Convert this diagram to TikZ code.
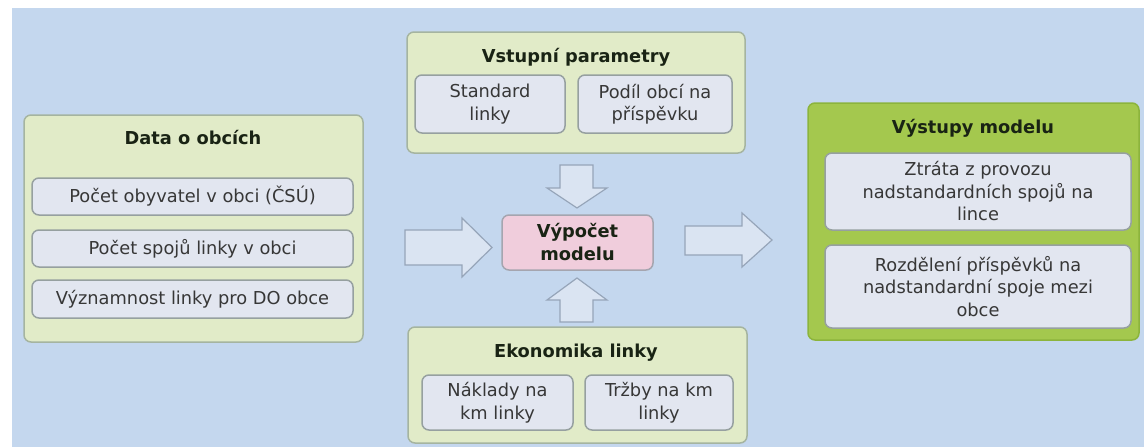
\documentclass[tikz,border=0pt]{standalone}
\usepackage{fontspec}
\setmainfont{DejaVu Sans}
\usetikzlibrary{calc}
\definecolor{bg}{RGB}{196,215,238}
\definecolor{palegreen}{RGB}{225,235,200}
\definecolor{outerborder}{RGB}{165,180,160}
\definecolor{stronggreen}{RGB}{164,200,78}
\definecolor{strongborder}{RGB}{140,180,60}
\definecolor{innerfill}{RGB}{226,230,240}
\definecolor{innerborder}{RGB}{150,160,160}
\definecolor{pinkfill}{RGB}{240,205,220}
\definecolor{pinkborder}{RGB}{165,165,175}
\definecolor{arrowfill}{RGB}{218,228,242}
\definecolor{arrowborder}{RGB}{150,165,185}
\definecolor{txt}{RGB}{55,55,55}
\definecolor{titletxt}{RGB}{25,35,20}
\begin{document}
\begin{tikzpicture}[x=1pt,y=-1pt,
  outerbox/.style={draw=outerborder, fill=palegreen, line width=1.5pt, rounded corners=7pt, inner sep=0pt},
  innerbox/.style={draw=innerborder, fill=innerfill, line width=1.5pt, rounded corners=7pt, align=center, inner sep=0pt, font=\fontsize{17.8}{22.5}\selectfont, text=txt},
  titletext/.style={font=\fontsize{17.8}{22}\selectfont\bfseries, text=titletxt, inner sep=0pt},
  barrow/.style={draw=arrowborder, fill=arrowfill, line width=1.2pt, line join=miter}]
\useasboundingbox (0,0) rectangle (1144,447);
\fill[white] (0,0) rectangle (1144,447);
\fill[bg] (12,8) rectangle (1144,447);

% Data o obcich
\node[outerbox, minimum width=339pt, minimum height=227pt] (data) at (193.5,228.5) {};
\node[titletext] (dataT) at (193,138) {Data o obcích};
\node[innerbox, minimum width=321pt, minimum height=37pt] (d1) at (192.5,196.5) {Počet obyvatel v obci (ČSÚ)};
\node[innerbox, minimum width=321pt, minimum height=37pt] (d2) at (192.5,248.5) {Počet spojů linky v obci};
\node[innerbox, minimum width=321pt, minimum height=38pt] (d3) at (192.5,299) {Významnost linky pro DO obce};

% Vstupni parametry
\node[outerbox, minimum width=338pt, minimum height=121pt] (vstup) at (576,92.5) {};
\node[titletext] (vstupT) at (576,57) {Vstupní parametry};
\node[innerbox, minimum width=150pt, minimum height=58pt] (v1) at (490,104) {Standard\\linky};
\node[innerbox, minimum width=154pt, minimum height=58pt] (v2) at (655,104) {Podíl obcí na\\příspěvku};

% Vypocet modelu
\node[draw=pinkborder, fill=pinkfill, line width=1.5pt, rounded corners=7pt, minimum width=151pt, minimum height=55pt, align=center, inner sep=0pt, font=\fontsize{17.8}{23}\selectfont\bfseries, text=titletxt] (calc) at (577.5,242.5) {Výpočet\\modelu};

% Ekonomika linky
\node[outerbox, minimum width=339pt, minimum height=116pt] (ekon) at (577.5,385) {};
\node[titletext] (ekonT) at (576,353) {Ekonomika linky};
\node[innerbox, minimum width=151pt, minimum height=55pt] (e1) at (497.5,402.5) {Náklady na\\km linky};
\node[innerbox, minimum width=148pt, minimum height=55pt] (e2) at (659,402.5) {Tržby na km\\linky};

% Vystupy modelu
\node[outerbox, draw=strongborder, fill=stronggreen, minimum width=331pt, minimum height=237pt] (vystup) at (973.5,221.5) {};
\node[titletext] (vystupT) at (973,128) {Výstupy modelu};
\node[innerbox, minimum width=306pt, minimum height=77pt] (o1) at (978,191.5) {Ztráta z provozu\\nadstandardních spojů na\\lince};
\node[innerbox, minimum width=306pt, minimum height=83pt] (o2) at (978,286.5) {Rozdělení příspěvků na\\nadstandardní spoje mezi\\obce};

% block arrows
\draw[barrow] (405,230)--(462,230)--(462,218)--(492,247.5)--(462,277)--(462,265)--(405,265)--cycle;
\draw[barrow] (685,226)--(742,226)--(742,213)--(772,240)--(742,267)--(742,255)--(685,255)--cycle;
\draw[barrow] (560,165)--(593,165)--(593,188)--(607,188)--(577,208)--(547,188)--(560,188)--cycle;
\draw[barrow] (577,278)--(607,300)--(593,300)--(593,322)--(560,322)--(560,300)--(547,300)--cycle;
\end{tikzpicture}
\end{document}
